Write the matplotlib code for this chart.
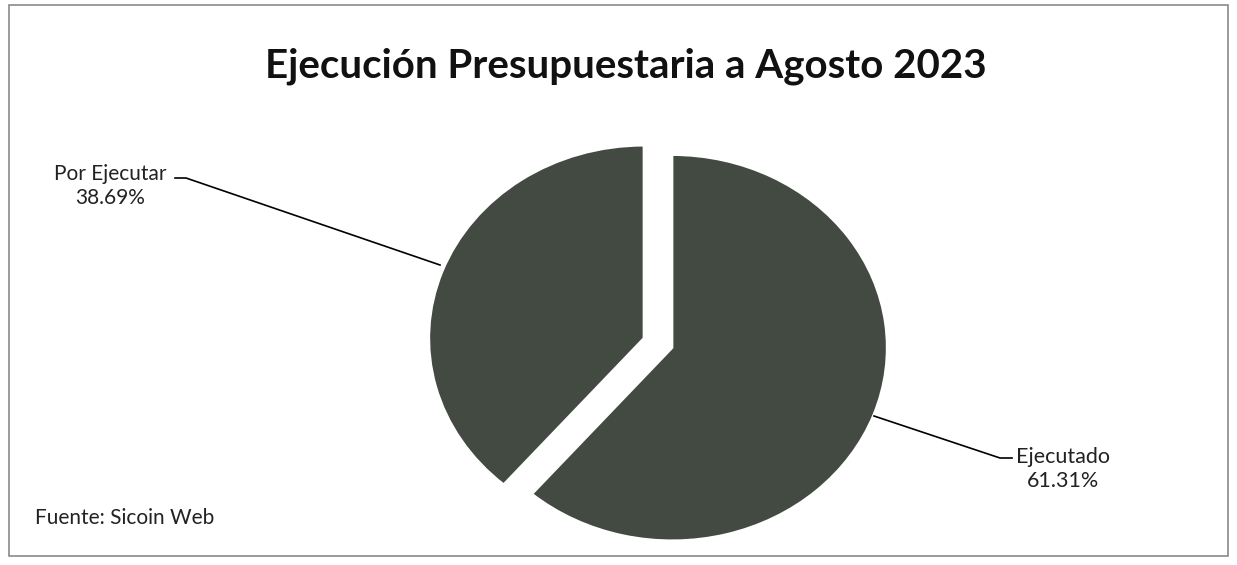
import matplotlib
matplotlib.use("Agg")
import matplotlib.pyplot as plt
from matplotlib.patches import Rectangle

# datos
categorias = ["Ejecutado", "Por Ejecutar"]
porcentajes = [61.31, 38.69]
titulo = "Ejecución Presupuestaria a Agosto 2023"
fuente = "Fuente: Sicoin Web"

W, H = 1237, 565
fig = plt.figure(figsize=(W / 100, H / 100), dpi=100)
plt.rcParams['font.family'] = ['Lato', 'DejaVu Sans']

# marco del grafico
fig.patches.append(Rectangle((9 / W, 9 / H), 1219 / W, 551 / H, transform=fig.transFigure,
                             fill=False, edgecolor='#8a8a8a', linewidth=1.2))

# ejes del pie (elipse: rx=215 px, ry=193 px)
cx, cy = 658, 343
rx, ry = 215, 193
lim = 1.3
aw, ah = 2 * lim * rx, 2 * lim * ry
ax = fig.add_axes([(cx - aw / 2) / W, (H - cy - ah / 2) / H, aw / W, ah / H])
wedges, _ = ax.pie(porcentajes, startangle=90, counterclock=False,
                   explode=[0.07, 0.07], colors=['#434a42', '#434a42'],
                   wedgeprops=dict(edgecolor='white', linewidth=1.8))
ax.set_aspect('auto')
ax.set_xlim(-lim, lim)
ax.set_ylim(-lim, lim)
ax.axis('off')

# etiquetas con lineas guia (coordenadas de figura en pixeles)
def px(x, y):
    return (x / W, 1 - y / H)

fig.text(*px(110, 186), f"{categorias[1]}\n{porcentajes[1]:.2f}%", ha='center', va='center',
         fontsize=15, linespacing=1.2, color='#222222')
fig.lines.append(plt.Line2D([175 / W, 186 / W, 440 / W], [1 - 178 / H, 1 - 178 / H, 1 - 265 / H],
                            transform=fig.transFigure, color='black', linewidth=1.2))

fig.text(*px(1063, 469), f"{categorias[0]}\n{porcentajes[0]:.2f}%", ha='center', va='center',
         fontsize=15.5, linespacing=1.2, color='#222222')
fig.lines.append(plt.Line2D([874 / W, 1000 / W, 1012 / W], [1 - 416 / H, 1 - 458 / H, 1 - 458 / H],
                            transform=fig.transFigure, color='black', linewidth=1.2))

fig.text(*px(626, 66), titulo, ha='center', va='center', fontsize=29, fontweight='bold',
         color='#111111')
fig.text(*px(35, 518), fuente, ha='left', va='center', fontsize=15, color='#222222')

fig.savefig("out.png", dpi=100)
